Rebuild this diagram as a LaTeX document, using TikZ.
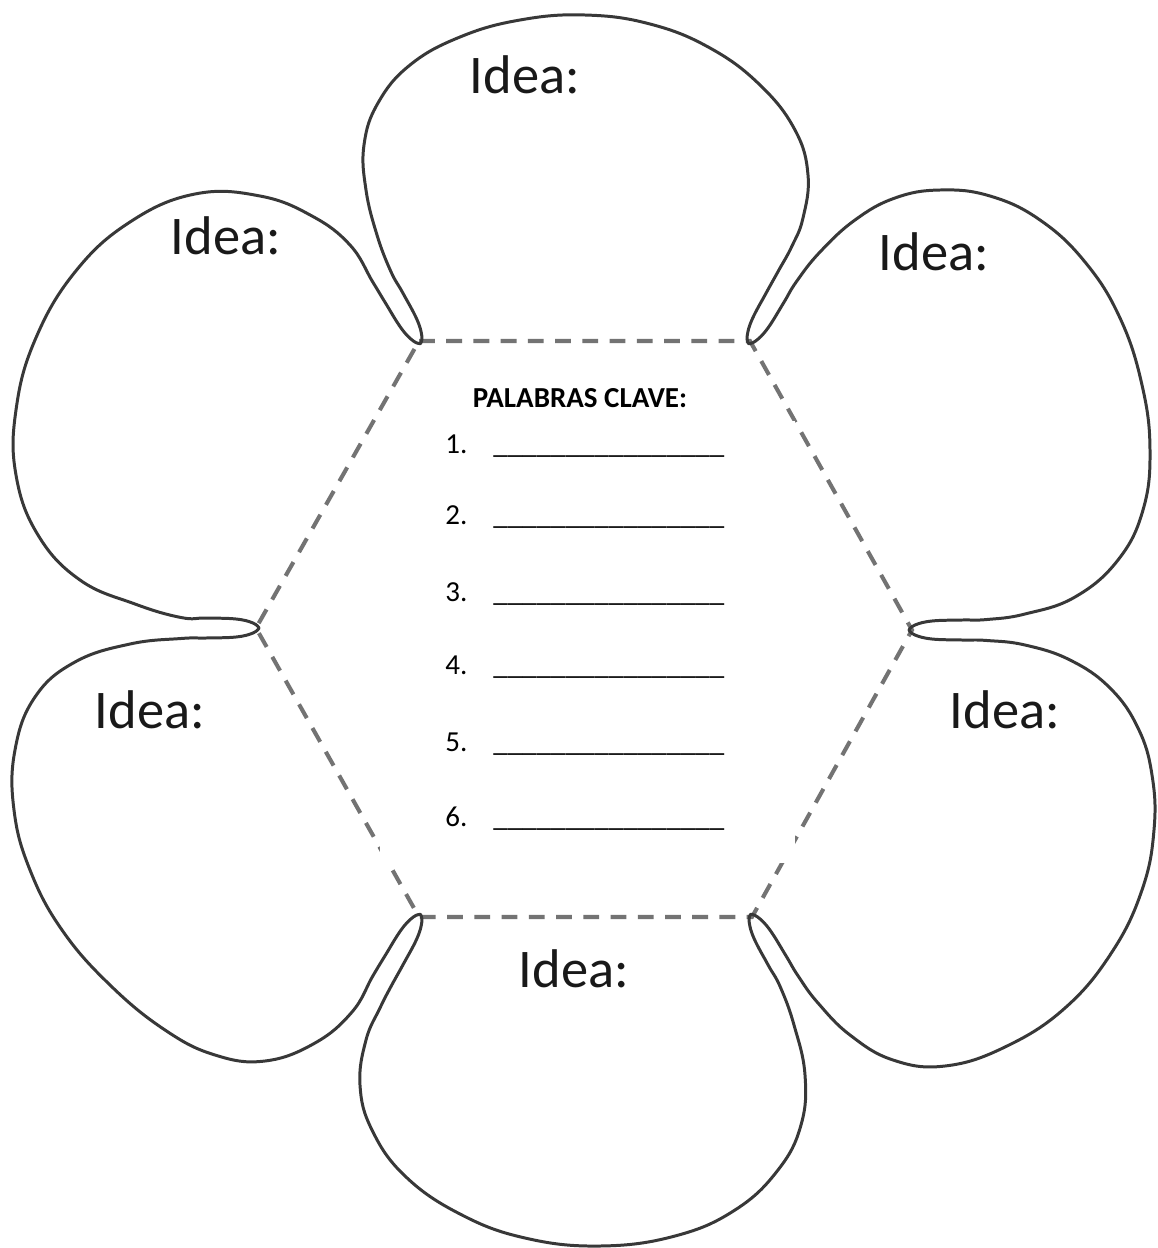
\documentclass[tikz,border=0pt]{standalone}
\usepackage{fontspec}
\setmainfont{Carlito}
\begin{document}
\begin{tikzpicture}[x=0.02cm,y=-0.02cm]
\tikzset{
  petal/.style={draw=black!78, line width=1.7pt, line join=round, line cap=round},
  hexedge/.style={draw=black!55, line width=2.3pt, dash pattern=on 9pt off 6.5pt},
  idea/.style={font=\fontsize{31}{36}\selectfont, text=black!90, inner sep=0pt, anchor=base},
  heading/.style={font=\fontsize{16.5}{20}\selectfont\bfseries, inner sep=0pt, anchor=base},
  itemnum/.style={font=\fontsize{16.5}{20}\selectfont, inner sep=0pt, anchor=base west},
  blankline/.style={font=\fontsize{16.5}{20}\selectfont, inner sep=0pt, anchor=base west},
  textbox/.style={fill=white, draw=none},
  petalcurve/.style={smooth, tension=0.7}
}
\useasboundingbox (0,0) rectangle (1157,1248);
\fill[white] (0,0) rectangle (1157,1248);

% hexagon vertices
\coordinate (V1) at (419,341);
\coordinate (V2) at (750,341);
\coordinate (V3) at (912,630);
\coordinate (V4) at (752,917);
\coordinate (V5) at (419,917);
\coordinate (V6) at (256,628);

% dashed hexagon
\draw[hexedge] (V1) -- (V2) -- (V3) -- (V4) -- (V5) -- (V6) -- cycle;

% white text box over the centre
\fill[textbox] (380,421) rectangle (795,863);

% top petal
\draw[petal] plot[petalcurve] coordinates {
 (420.5,343.6) (421.8,335.9) (416.8,319.2) (402.7,292.7) (390.6,270.9)
 (377,235) (366,190) (364,145) (378,103) (410,65) (460,37) (520,20)
 (585,15) (650,24) (710,48) (760,85) (795,130) (808,175) (803,218) (792,246)
 (778.4,270.9) (766.3,292.7) (752.2,319.2) (747.2,335.9) (748.5,343.6)};

% upper-right petal
\draw[petal] plot[petalcurve] coordinates {
 (748.5,343.6) (755.8,340.9) (767.8,328.2) (783.7,302.7) (796.6,281.4)
 (820,252) (855,220) (895,198) (940,190) (990,196) (1040,220) (1085,262)
 (1120,318) (1142,385) (1150,450) (1143,510) (1118,560) (1075,597)
 (1025,614) (987,619.5) (962,620) (932,621) (915,625) (909,630)};

% lower-right petal
\draw[petal] plot[petalcurve] coordinates {
 (909,630) (915,635) (932,639) (962,640) (987,640.5) (1025,645) (1070,660)
 (1110,688) (1138,728) (1152,775) (1154,830) (1142,890) (1112,952)
 (1065,1008) (1005,1047) (945,1066) (893,1060) (850,1035) (818,1003)
 (798.6,976.7) (785.7,955.3) (769.8,929.8) (757.8,917.1) (750.5,914.4)};

% bottom petal
\draw[petal] plot[petalcurve] coordinates {
 (750.5,914.4) (749.2,922.1) (754.2,938.8) (768.3,965.3) (780.4,987.2)
 (794,1025) (805,1075) (801,1125) (778,1170) (735,1210) (675,1236)
 (600,1246) (525,1238) (460,1214) (405,1176) (372,1130) (360,1085)
 (366,1040) (380,1008) (390.6,987.2) (402.7,965.3) (416.8,938.8)
 (421.8,922.1) (420.5,914.4)};

% lower-left petal
\draw[petal] plot[petalcurve] coordinates {
 (420.5,914.4) (413.2,917.1) (401.2,929.8) (385.3,955.3) (372.4,976.7)
 (352,1012) (315,1043) (265,1061) (215,1055) (165,1030) (110,985)
 (62,930) (30,870) (14,810) (15,750) (35,697) (75,662) (130,644)
 (181,638.5) (206,638) (236,637) (253,633) (259,628)};

% upper-left petal
\draw[petal] plot[petalcurve] coordinates {
 (259,628) (253,623) (236,619) (206,618) (181,617.5) (135,604) (80,580)
 (38,535) (16,475) (16,410) (35,340) (75,272) (130,222) (195,194)
 (260,196) (312,216) (350,245) (372.4,281.4) (385.3,302.7) (401.2,328.2)
 (413.2,340.9) (420.5,343.6)};

% petal labels
\node[idea] (iT)  at (525,93)  {Idea:};
\node[idea] (iUL) at (226,254) {Idea:};
\node[idea] (iUR) at (934,270) {Idea:};
\node[idea] (iLL) at (150,728) {Idea:};
\node[idea] (iLR) at (1005,728) {Idea:};
\node[idea] (iB)  at (574,987) {Idea:};

% key words list
\node[heading] (title) at (580,407) {PALABRAS CLAVE:};
\foreach \k/\yy in {1/453, 2/524, 3/601, 4/674, 5/751, 6/826}{
  \node[itemnum] (n\k) at (445,\yy) {\k.};
  \node[blankline] (b\k) at (493,\yy) {\_\_\_\_\_\_\_\_\_\_\_\_\_\_\_\_};
}
\end{tikzpicture}
\end{document}
